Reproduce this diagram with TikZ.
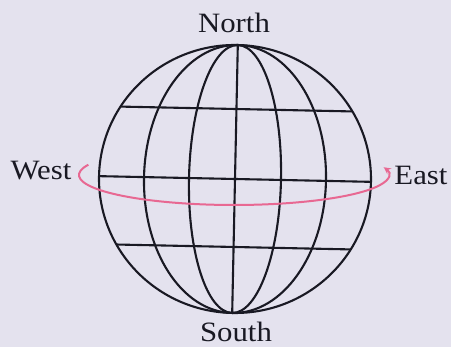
\documentclass[tikz,border=0pt]{standalone}
\usepackage{fontspec}
\setmainfont{Liberation Serif}[FakeStretch=1.1]
\usetikzlibrary{arrows.meta}
\definecolor{bg}{RGB}{228,226,238}
\definecolor{arcpink}{RGB}{232,104,146}
\definecolor{ink}{RGB}{25,25,35}
\begin{document}
\begin{tikzpicture}[x=1pt,y=1pt,
  gridline/.style={draw=ink, line width=2.1pt},
  lbl/.style={font=\fontsize{28}{30}\selectfont, text=ink, inner sep=0pt, anchor=base}]
\fill[bg] (0,0) rectangle (451,347);
\useasboundingbox (0,0) rectangle (451,347);
\begin{scope}[shift={(235,168)}, rotate=-1.2]
  \coordinate (N) at (0,134);
  \coordinate (S) at (0,-134);
  \draw[gridline] (0,0) ellipse [x radius=136, y radius=134];
  \draw[gridline] (0,0) ellipse [x radius=91, y radius=134];
  \draw[gridline] (0,0) ellipse [x radius=46, y radius=134];
  \draw[gridline] (N) -- (S);
  \coordinate (p1l) at (-116,70);  \coordinate (p1r) at (116,70);
  \coordinate (p2l) at (-136,0);   \coordinate (p2r) at (136,0);
  \coordinate (p3l) at (-117,-68); \coordinate (p3r) at (117,-68);
  \draw[gridline] (p1l) -- (p1r);
  \draw[gridline] (p2l) -- (p2r);
  \draw[gridline] (p3l) -- (p3r);
\end{scope}
\coordinate (ac) at (234,172);
\draw[arcpink, line width=2pt, -{Stealth[length=7pt,width=7pt]}]
  (ac) ++(160:155 and 30) arc[start angle=160, end angle=375, x radius=155, y radius=30];
\node[lbl] (north) at (234,314) {North};
\node[lbl] (south) at (236,5) {South};
\node[lbl] (west) at (41,167) {West};
\node[lbl] (east) at (421,162) {East};
\end{tikzpicture}
\end{document}
